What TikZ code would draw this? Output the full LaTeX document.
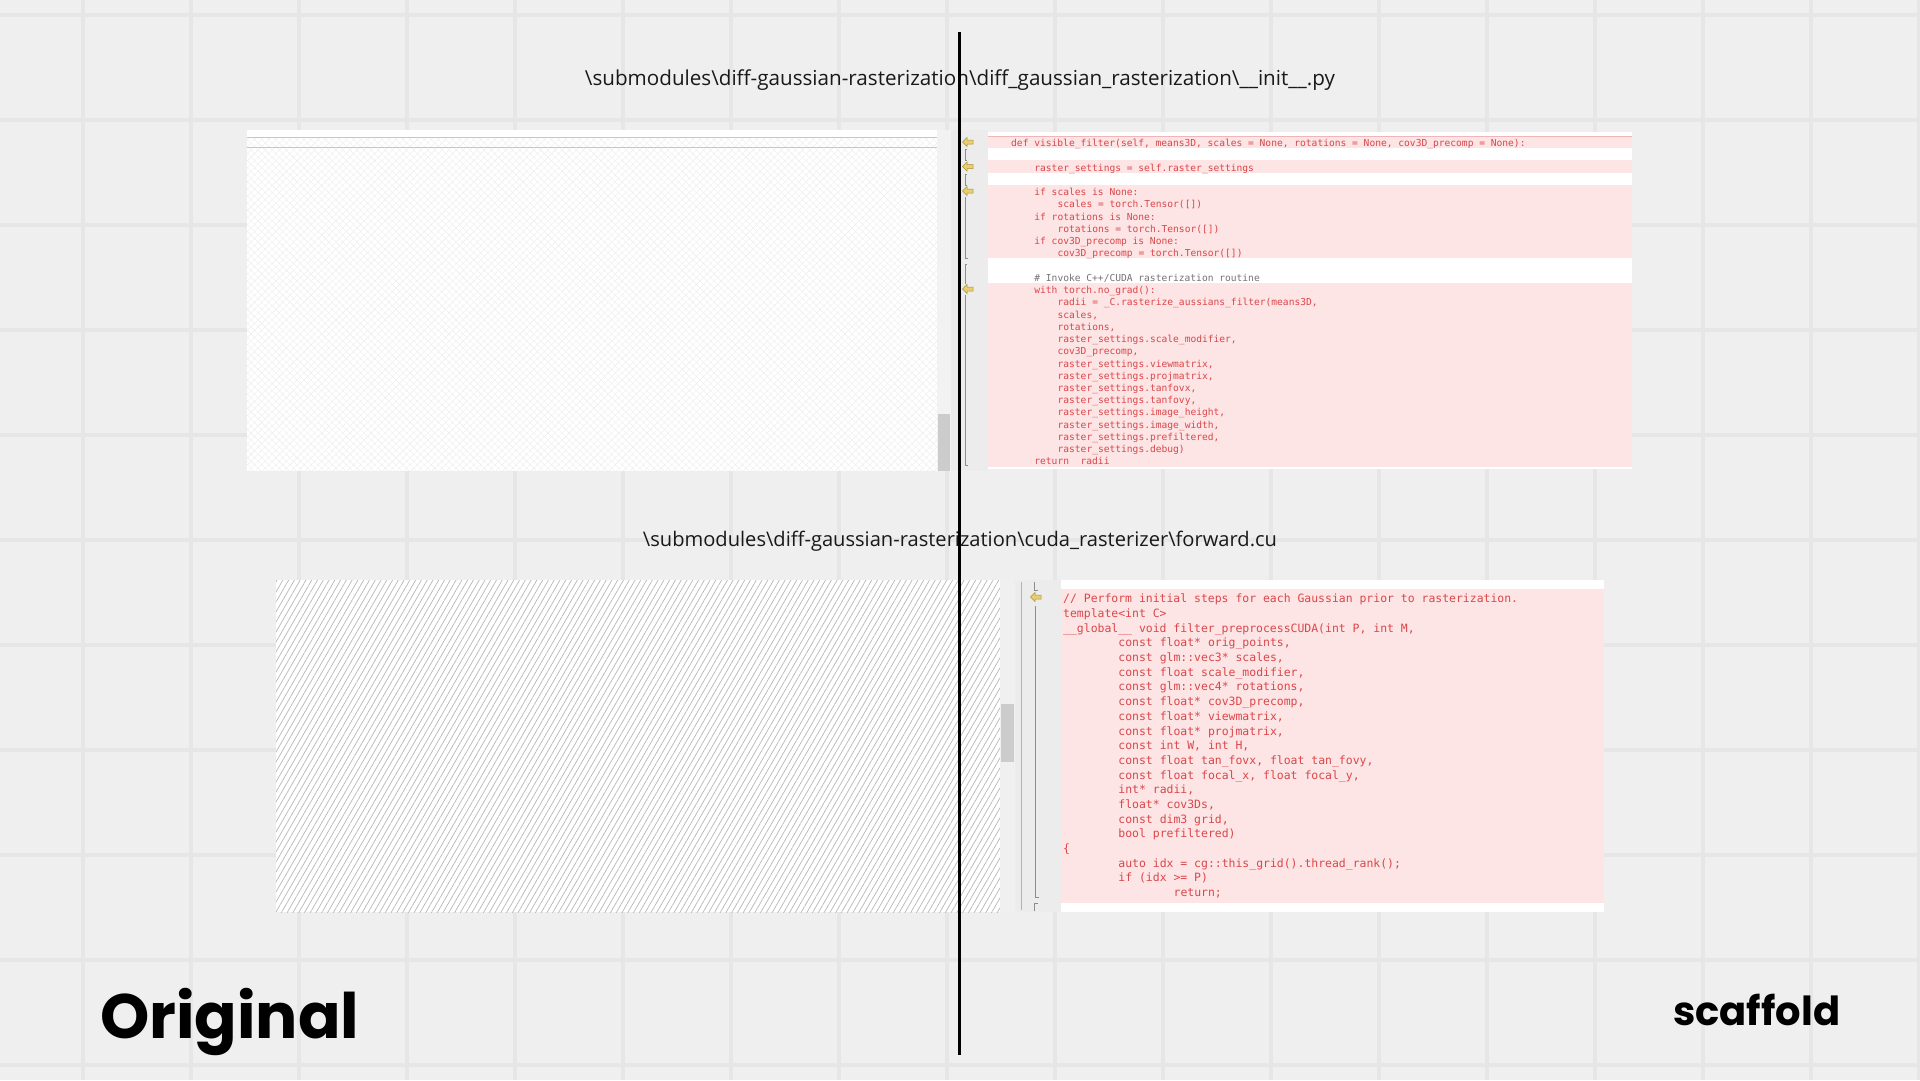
\documentclass[tikz,border=0pt]{standalone}
\usepackage{fontspec}
\setmainfont{Open Sans}
\newfontfamily\titlefont{Poppins}
\newfontfamily\codefont{DejaVu Sans Mono}
\usetikzlibrary{patterns.meta}
\definecolor{bg}{HTML}{EFEFEF}
\definecolor{gridc}{HTML}{E6E6E6}
\definecolor{pinkbg}{HTML}{FDE4E5}
\definecolor{codered}{HTML}{D9474A}
\definecolor{gutter}{HTML}{ECECEC}
\definecolor{arrowy}{HTML}{E6CF72}
\definecolor{arrowb}{HTML}{B09030}
\newcommand\monospaces{\frenchspacing\spaceskip=0.602em plus 0pt minus 0pt\relax\xspaceskip=\spaceskip}
\tikzset{
  codeT/.style={font=\codefont\fontsize{9.6}{12}\selectfont\monospaces, text=codered, inner sep=0pt},
  codeB/.style={font=\codefont\fontsize{11.45}{14}\selectfont\monospaces, text=codered, inner sep=0pt},
  pathtxt/.style={font=\fontsize{20}{24}\selectfont, text=black!90, inner sep=0pt},
  gmark/.style={black!45, line width=0.8pt},
  band/.style={fill=pinkbg},
}
\newcommand\TopL[3]{\node[codeT,anchor=base west] (a#1) at ({1011+#2*5.8},{146.6+#1*12.245}) {#3};}
\newcommand\BotL[3]{\node[codeB,anchor=base west] (b#1) at ({1063+#2*6.9},{602.8+#1*14.69}) {#3};}
\newcommand\GArrow[2]{\filldraw[fill=arrowy, draw=arrowb, line width=0.5pt]
  ({#1-5.5},{#2}) -- ({#1-1},{#2-4.5}) -- ({#1-1},{#2-2}) -- ({#1+5},{#2-2}) -- ({#1+5},{#2+2}) -- ({#1-1},{#2+2}) -- ({#1-1},{#2+4.5}) -- cycle;}
\begin{document}
\begin{tikzpicture}[x=1pt,y=-1pt]
\useasboundingbox (0,0) rectangle (1920,1080);
\fill[bg] (0,0) rectangle (1920,1080);
% background grid
\foreach \x in {83,191,...,1920} \draw[gridc, line width=3.5pt] (\x,0) -- (\x,1080);
\foreach \y in {15,120,...,1080} \draw[gridc, line width=3.5pt] (0,\y) -- (1920,\y);

% ---------- top left panel ----------
\fill[white] (247,130) rectangle (937,471);
\path[pattern={Hatch[angle=45,distance=5pt,line width=0.4pt]}, pattern color=black!7] (247,137) rectangle (937,471);
\draw[black!22, line width=0.8pt] (247,137) -- (937,137);
\draw[black!22, line width=0.8pt] (247,147) -- (937,147);
\fill[black!5] (937,130) rectangle (951,471);
\fill[black!20] (938,414) rectangle (950,471);

% ---------- top gutter ----------
\fill[gutter] (951,130) rectangle (988,471);
\draw[gmark] (967,149) -- (965,149) -- (965,160) -- (967,160);
\draw[gmark] (967,174) -- (965,174) -- (965,185) -- (967,185);
\draw[gmark] (965,197) -- (965,258) -- (968,258);
\draw[gmark] (967,264) -- (965,264) -- (965,284);
\draw[gmark] (965,295) -- (965,465) -- (968,465);
\GArrow{968}{142}
\GArrow{968}{166.5}
\GArrow{968}{191}
\GArrow{968}{289}

% ---------- top code box ----------
\fill[white] (988,132) rectangle (1632,469);
\fill[band] (988,135.9) rectangle (1632,148.1);
\draw[codered!40, line width=0.5pt] (988,135.9) -- (1632,135.9);
\fill[band] (988,160.4) rectangle (1632,172.6);
\fill[band] (988,184.9) rectangle (1632,258.4);
\fill[band] (988,282.8) rectangle (1632,466.5);
\TopL{0}{0}{def visible\_filter(self, means3D, scales = None, rotations = None, cov3D\_precomp = None):}
\TopL{2}{4}{raster\_settings = self.raster\_settings}
\TopL{4}{4}{if scales is None:}
\TopL{5}{8}{scales = torch.Tensor([])}
\TopL{6}{4}{if rotations is None:}
\TopL{7}{8}{rotations = torch.Tensor([])}
\TopL{8}{4}{if cov3D\_precomp is None:}
\TopL{9}{8}{cov3D\_precomp = torch.Tensor([])}
\node[codeT,anchor=base west,text=black!55] (a11) at ({1011+4*5.8},{146.6+11*12.245}) {\# Invoke C++/CUDA rasterization routine};
\TopL{12}{4}{with torch.no\_grad():}
\TopL{13}{8}{radii = \_C.rasterize\_aussians\_filter(means3D,}
\TopL{14}{8}{scales,}
\TopL{15}{8}{rotations,}
\TopL{16}{8}{raster\_settings.scale\_modifier,}
\TopL{17}{8}{cov3D\_precomp,}
\TopL{18}{8}{raster\_settings.viewmatrix,}
\TopL{19}{8}{raster\_settings.projmatrix,}
\TopL{20}{8}{raster\_settings.tanfovx,}
\TopL{21}{8}{raster\_settings.tanfovy,}
\TopL{22}{8}{raster\_settings.image\_height,}
\TopL{23}{8}{raster\_settings.image\_width,}
\TopL{24}{8}{raster\_settings.prefiltered,}
\TopL{25}{8}{raster\_settings.debug)}
\TopL{26}{4}{return\ \ radii}

% ---------- bottom left panel ----------
\fill[white] (276,580) rectangle (1000,912);
\path[pattern={Lines[angle=60,distance=5pt,line width=0.7pt]}, pattern color=black!28] (276,580) rectangle (1000,912);
\fill[black!6] (1000,580) rectangle (1015,912);
\fill[black!20] (1001,704) rectangle (1014,762);

% ---------- bottom gutter ----------
\fill[gutter] (1015,580) rectangle (1061,912);
\draw[black!30, line width=0.8pt] (1021,582) -- (1021,910);
\draw[gmark] (1034,582) -- (1034,590) -- (1038,590);
\draw[gmark] (1035,606) -- (1035,897) -- (1039,897);
\draw[gmark] (1034,911) -- (1034,903) -- (1038,903);
\GArrow{1036}{597}

% ---------- bottom code box ----------
\fill[white] (1061,580) rectangle (1604,912);
\fill[band] (1061,589) rectangle (1604,903);
\BotL{0}{0}{// Perform initial steps for each Gaussian prior to rasterization.}
\BotL{1}{0}{template<int C>}
\BotL{2}{0}{\_\_global\_\_ void filter\_preprocessCUDA(int P, int M,}
\BotL{3}{8}{const float* orig\_points,}
\BotL{4}{8}{const glm::vec3* scales,}
\BotL{5}{8}{const float scale\_modifier,}
\BotL{6}{8}{const glm::vec4* rotations,}
\BotL{7}{8}{const float* cov3D\_precomp,}
\BotL{8}{8}{const float* viewmatrix,}
\BotL{9}{8}{const float* projmatrix,}
\BotL{10}{8}{const int W, int H,}
\BotL{11}{8}{const float tan\_fovx, float tan\_fovy,}
\BotL{12}{8}{const float focal\_x, float focal\_y,}
\BotL{13}{8}{int* radii,}
\BotL{14}{8}{float* cov3Ds,}
\BotL{15}{8}{const dim3 grid,}
\BotL{16}{8}{bool prefiltered)}
\BotL{17}{0}{\{}
\BotL{18}{8}{auto idx = cg::this\_grid().thread\_rank();}
\BotL{19}{8}{if (idx >= P)}
\BotL{20}{16}{return;}

% ---------- labels ----------
\node[pathtxt, anchor=base] (p1) at (960,85) {\resizebox{750pt}{!}{\textbackslash submodules\textbackslash diff-gaussian-rasterization\textbackslash diff\_gaussian\_rasterization\textbackslash \_\_init\_\_.py}};
\node[pathtxt, anchor=base] (p2) at (960,546) {\resizebox{634pt}{!}{\textbackslash submodules\textbackslash diff-gaussian-rasterization\textbackslash cuda\_rasterizer\textbackslash forward.cu}};
\node[inner sep=0pt, anchor=base west] (orig) at (100,1038) {\resizebox{259pt}{!}{\titlefont\bfseries Original}};
\node[inner sep=0pt, anchor=base west] (scaf) at (1673,1025) {\resizebox{167pt}{!}{\titlefont\bfseries scaffold}};

% ---------- divider ----------
\coordinate (vtop) at (959,32);
\coordinate (vbot) at (959,1055);
\draw[black, line width=3pt] (vtop) -- (vbot);
\end{tikzpicture}
\end{document}
